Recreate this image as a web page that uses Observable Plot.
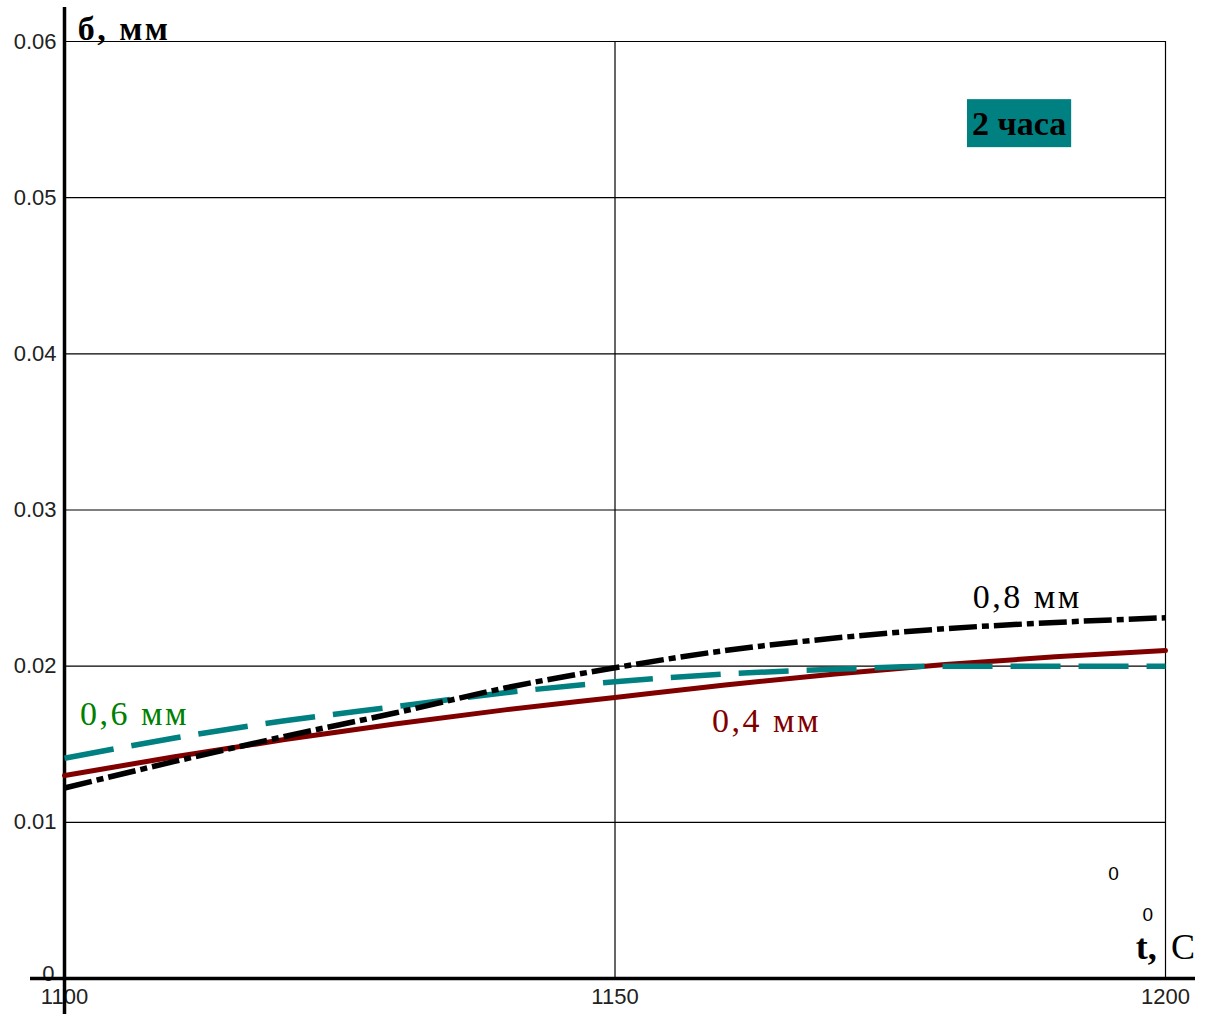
<!DOCTYPE html>
<html>
<head>
<meta charset="utf-8">
<script src="https://cdn.jsdelivr.net/npm/d3@7"></script>
<script src="https://cdn.jsdelivr.net/npm/@observablehq/plot@0.6"></script>
<style>
  html, body { margin: 0; padding: 0; background: #fff; }
  #chart { width: 1208px; height: 1014px; overflow: hidden; }
  .lbl text { letter-spacing: 2.5px; }
</style>
</head>
<body>
<div id="chart"></div>
<script>
// Temperature, °C
const temps = [1100, 1110, 1120, 1130, 1140, 1150, 1160, 1170, 1180, 1190, 1200];
// δ, mm — for three thicknesses (2 hours)
const delta04 = [0.0130, 0.0142, 0.0153, 0.0163, 0.0172, 0.0180, 0.0188, 0.0195, 0.0201, 0.0206, 0.0210];
const delta06 = [0.0141, 0.0154, 0.0165, 0.0174, 0.0183, 0.0190, 0.0195, 0.0198, 0.0200, 0.0200, 0.0200];
const delta08 = [0.0122, 0.0139, 0.0155, 0.0170, 0.0186, 0.0199, 0.0210, 0.0218, 0.0224, 0.0228, 0.0231];
const yTicks = [0.01, 0.02, 0.03, 0.04, 0.05, 0.06];
const xTicks = [1100, 1150, 1200];
const seriesNames = ["0,4 мм", "0,6 мм", "0,8 мм"];

const rows = (vals) => temps.map((t, i) => ({t, v: vals[i]}));
const d04 = rows(delta04), d06 = rows(delta06), d08 = rows(delta08);

const serif = "'Liberation Serif', 'Times New Roman', serif";

const plot = Plot.plot({
  width: 1208,
  height: 1014,
  marginLeft: 64,
  marginRight: 43,
  marginTop: 41,
  marginBottom: 36,
  style: {fontFamily: "'Liberation Sans', Arial, sans-serif", fontSize: "22px", color: "#222", background: "#fff", overflow: "visible"},
  x: {domain: [1100, 1200]},
  y: {domain: [0, 0.06]},
  marks: [
    Plot.gridY(yTicks, {stroke: "#000", strokeOpacity: 1, strokeWidth: 1.2}),
    Plot.gridX([1150, 1200], {stroke: "#000", strokeOpacity: 1, strokeWidth: 1.2}),
    Plot.axisY(yTicks, {tickSize: 0, tickPadding: 8, tickFormat: d => d.toFixed(2), fill: "#222", label: null}),
    Plot.axisY([0], {tickSize: 0, tickPadding: 10, tickFormat: () => "0", fill: "#222", label: null, dy: -5}),
    Plot.axisX(xTicks, {tickSize: 0, tickPadding: 10, tickFormat: d => String(d), fill: "#222", label: null}),
    Plot.ruleY([0], {stroke: "#000", strokeWidth: 3.5, insetLeft: -34, insetRight: -30}),
    Plot.ruleX([1100], {stroke: "#000", strokeWidth: 3.5, insetTop: -34, insetBottom: -36}),
    Plot.line(d04, {x: "t", y: "v", stroke: "#800000", strokeWidth: 5, curve: "monotone-x"}),
    Plot.line(d06, {x: "t", y: "v", stroke: "#008080", strokeWidth: 5.5, strokeDasharray: "50,18", strokeLinecap: "butt", curve: "monotone-x"}),
    Plot.line(d08, {x: "t", y: "v", stroke: "#000", strokeWidth: 5.5, strokeDasharray: "28,5,7,5", strokeLinecap: "butt", curve: "monotone-x"}),
    Plot.text([seriesNames[1]], {x: 1101.4, y: 0.01695, text: d => d, textAnchor: "start", fill: "#008000", fontSize: 34, fontFamily: serif, className: "lbl"}),
    Plot.text([seriesNames[0]], {x: 1158.8, y: 0.01650, text: d => d, textAnchor: "start", fill: "#800000", fontSize: 34, fontFamily: serif, className: "lbl"}),
    Plot.text([seriesNames[2]], {x: 1182.5, y: 0.02440, text: d => d, textAnchor: "start", fill: "#000", fontSize: 34, fontFamily: serif, className: "lbl"}),
    Plot.text(["2 часа"], {x: 1186.7, y: 0.0547, text: d => d, fill: "#000", fontSize: 34, fontWeight: "bold", fontFamily: serif, className: "badge"}),
    Plot.text(["б, мм"], {x: 1101.2, y: 0.0608, text: d => d, textAnchor: "start", fill: "#000", fontSize: 34, fontWeight: "bold", fontFamily: serif, className: "lbl"}),
    Plot.text(["t,"], {x: 1197.3, y: 0.0021, text: d => d, textAnchor: "start", fill: "#000", fontSize: 36, fontWeight: "bold", fontFamily: serif, dy: 2}),
    Plot.text(["C"], {x: 1200.5, y: 0.0021, text: d => d, textAnchor: "start", fill: "#000", fontSize: 36, fontFamily: serif, dy: 2}),
    Plot.text(["0"], {x: 1194.8, y: 0.0067, text: d => d, textAnchor: "start", fill: "#000", fontSize: 19}),
    Plot.text(["0"], {x: 1197.9, y: 0.0037, text: d => d, textAnchor: "start", fill: "#000", fontSize: 19, dy: -6})
  ]
});

document.getElementById("chart").appendChild(plot);

// teal background behind the "2 часа" badge
const badge = plot.querySelector(".badge text");
if (badge) {
  const bb = badge.getBBox();
  const ns = "http://www.w3.org/2000/svg";
  const r = document.createElementNS(ns, "rect");
  r.setAttribute("x", bb.x - 5);
  r.setAttribute("y", bb.y - 6);
  r.setAttribute("width", bb.width + 10);
  r.setAttribute("height", 48);
  r.setAttribute("fill", "#008080");
  const tr = badge.getAttribute("transform");
  if (tr) r.setAttribute("transform", tr);
  badge.parentNode.insertBefore(r, badge);
}
</script>
</body>
</html>
